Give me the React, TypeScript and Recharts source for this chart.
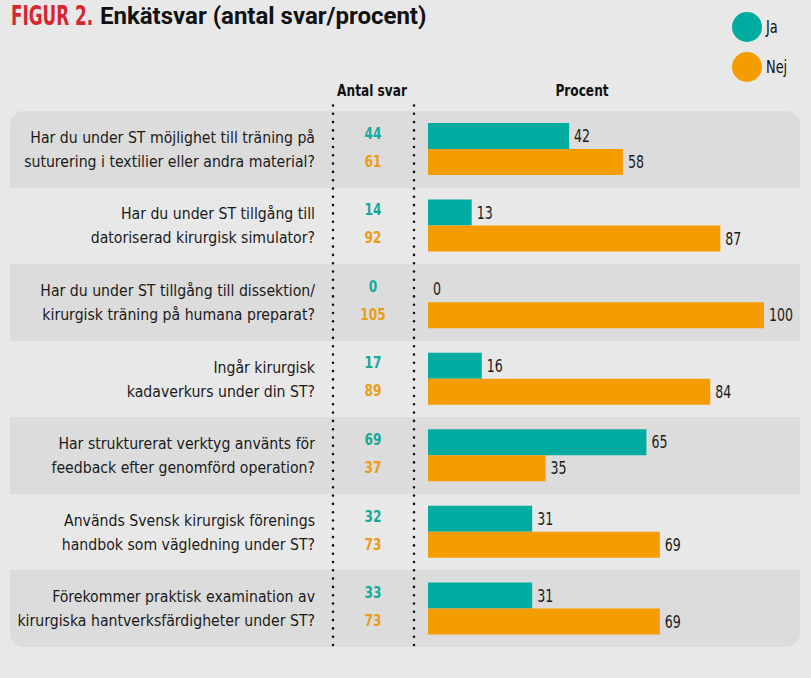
import { Bar, BarChart, LabelList, XAxis, YAxis } from "recharts";

const questions: string[][] = [
  ["Har du under ST möjlighet till träning på", "suturering i textilier eller andra material?"],
  ["Har du under ST tillgång till", "datoriserad kirurgisk simulator?"],
  ["Har du under ST tillgång till dissektion/", "kirurgisk träning på humana preparat?"],
  ["Ingår kirurgisk", "kadaverkurs under din ST?"],
  ["Har strukturerat verktyg använts för", "feedback efter genomförd operation?"],
  ["Används Svensk kirurgisk förenings", "handbok som vägledning under ST?"],
  ["Förekommer praktisk examination av", "kirurgiska hantverksfärdigheter under ST?"],
];
const jaCount = [44, 14, 0, 17, 69, 32, 33];
const nejCount = [61, 92, 105, 89, 37, 73, 73];
const jaPct = [42, 13, 0, 16, 65, 31, 31];
const nejPct = [58, 87, 100, 84, 35, 69, 69];

const TEAL = "#00ab9f";
const ORANGE = "#f59c00";
const TEAL_TXT = "#16a89b";
const ORANGE_TXT = "#e99c14";
const NARROW = "'DejaVu Sans Condensed', 'DejaVu Sans', sans-serif";

const W = 811;
const H = 678;
const TOP = 111;
const BOTTOM = 647;
const BAND = (BOTTOM - TOP) / questions.length;

const data = questions.map((q, i) => ({
  q: q.join(" "),
  ja: jaPct[i],
  nej: nejPct[i],
}));

// condensed svg text: squeezes horizontally around its anchor point
const NText = ({ x, y, sx = 0.85, anchor = "start", children, ...rest }: any) => (
  <text
    transform={`translate(${x},${y}) scale(${sx},1)`}
    textAnchor={anchor}
    dominantBaseline="central"
    fontFamily={NARROW}
    {...rest}
  >
    {children}
  </text>
);

const QuestionTick = (props: any) => {
  const { y, index } = props;
  const lines = questions[index];
  return (
    <g>
      <NText x={315} y={y - 12} anchor="end" sx={0.95} fontSize={16.5} fill="#1a1a1a">
        {lines[0]}
      </NText>
      <NText x={315} y={y + 12} anchor="end" sx={0.95} fontSize={16.5} fill="#1a1a1a">
        {lines[1]}
      </NText>
      <NText x={373} y={y - 16} anchor="middle" sx={0.82} fontSize={16.5} fontWeight={700} fill={TEAL_TXT}>
        {jaCount[index]}
      </NText>
      <NText x={373} y={y + 12} anchor="middle" sx={0.82} fontSize={16.5} fontWeight={700} fill={ORANGE_TXT}>
        {nejCount[index]}
      </NText>
    </g>
  );
};

const ValueLabel = (props: any) => {
  const { x, y, width, height, value } = props;
  return (
    <NText x={Number(x) + Number(width) + 5} y={Number(y) + Number(height) / 2} sx={0.8} fontSize={17.5} fill="#1a1a1a">
      {value}
    </NText>
  );
};

export default function App() {
  return (
    <div
      style={{
        position: "absolute",
        left: 0,
        top: 0,
        width: W,
        height: H,
        background: "#e8e8e8",
        fontFamily: NARROW,
        overflow: "hidden",
      }}
    >
      {/* row bands */}
      {questions.map((_, i) =>
        i % 2 === 0 ? (
          <div
            key={i}
            style={{
              position: "absolute",
              left: 10,
              width: 790,
              top: TOP + i * BAND,
              height: BAND,
              background: "#dcdcdc",
              borderRadius: i === 0 ? "14px 14px 0 0" : i === questions.length - 1 ? "0 0 14px 14px" : 0,
            }}
          />
        ) : null,
      )}

      <svg width={W} height={110} style={{ position: "absolute", left: 0, top: 0 }}>
        <NText x={11} y={16} sx={0.72} fontSize={26} fontWeight={700} fill="#d7262f">
          FIGUR 2.
        </NText>
        <text x={100} y={16} dominantBaseline="central" fontFamily="Roboto, sans-serif" fontWeight={700} fontSize={24} fill="#111">
          Enkätsvar (antal svar/procent)
        </text>
        <circle cx={747} cy={27} r={15} fill={TEAL} />
        <circle cx={747} cy={67} r={15} fill={ORANGE} />
        <NText x={766} y={27} sx={0.82} fontSize={17.5} fill="#111">
          Ja
        </NText>
        <NText x={766} y={67} sx={0.82} fontSize={17.5} fill="#111">
          Nej
        </NText>
        <NText x={372} y={91} anchor="middle" sx={0.82} fontSize={16.5} fontWeight={700} fill="#111">
          Antal svar
        </NText>
        <NText x={582} y={91} anchor="middle" sx={0.82} fontSize={16.5} fontWeight={700} fill="#111">
          Procent
        </NText>
      </svg>

      <div style={{ position: "absolute", left: 0, top: 0 }}>
        <BarChart
          width={W}
          height={H}
          data={data}
          layout="vertical"
          margin={{ top: TOP, bottom: H - BOTTOM, left: 0, right: 47 }}
          barGap={0}
          barSize={26}
        >
          <XAxis type="number" domain={[0, 100]} hide />
          <YAxis
            type="category"
            dataKey="q"
            width={428}
            axisLine={false}
            tickLine={false}
            interval={0}
            tick={(p: any) => <QuestionTick {...p} />}
          />
          <Bar dataKey="ja" fill={TEAL} minPointSize={0.01} isAnimationActive={false}>
            <LabelList dataKey="ja" content={(p: any) => <ValueLabel {...p} />} />
          </Bar>
          <Bar dataKey="nej" fill={ORANGE} minPointSize={0.01} isAnimationActive={false}>
            <LabelList dataKey="nej" content={(p: any) => <ValueLabel {...p} />} />
          </Bar>
        </BarChart>
      </div>

      {/* dotted separators */}
      <svg width={W} height={H} style={{ position: "absolute", left: 0, top: 0, pointerEvents: "none" }}>
        {[333, 414].map((x) => (
          <line
            key={x}
            x1={x}
            x2={x}
            y1={105.5}
            y2={650}
            stroke="#111"
            strokeWidth={2.6}
            strokeLinecap="round"
            strokeDasharray="0 8.3"
          />
        ))}
      </svg>
    </div>
  );
}
